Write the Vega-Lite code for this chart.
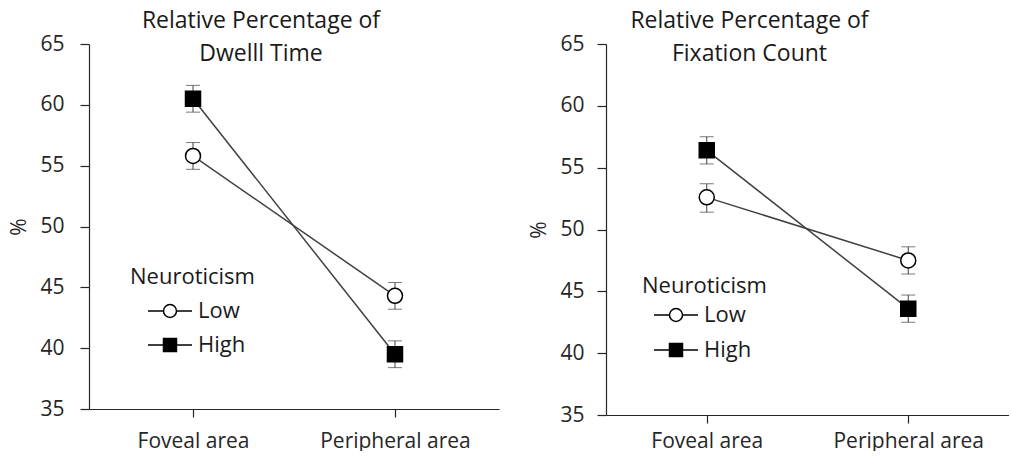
{
  "$schema": "https://vega.github.io/schema/vega-lite/v6.json",
  "background": "white",
  "padding": {"left": 8, "top": 10, "right": 0, "bottom": 0},
  "config": {
    "font": "Open Sans",
    "view": {"stroke": null},
    "concat": {"spacing": 29},
    "axis": {"grid": false, "domainColor": "#262626", "tickColor": "#262626", "labelColor": "#262626", "titleColor": "#262626", "labelFontSize": 21, "titleFontSize": 21, "titleFontWeight": "normal", "domainWidth": 1.2, "tickWidth": 1.2}
  },
  "datasets": {
    "dwell": [
      {"area": "Foveal area", "group": "Low", "mean": 55.8, "lo": 54.7, "hi": 56.9},
      {"area": "Foveal area", "group": "High", "mean": 60.5, "lo": 59.4, "hi": 61.6},
      {"area": "Peripheral area", "group": "Low", "mean": 44.3, "lo": 43.2, "hi": 45.4},
      {"area": "Peripheral area", "group": "High", "mean": 39.5, "lo": 38.4, "hi": 40.6}
    ],
    "fix": [
      {"area": "Foveal area", "group": "Low", "mean": 52.6, "lo": 51.4, "hi": 53.7},
      {"area": "Foveal area", "group": "High", "mean": 56.4, "lo": 55.3, "hi": 57.5},
      {"area": "Peripheral area", "group": "Low", "mean": 47.5, "lo": 46.4, "hi": 48.6},
      {"area": "Peripheral area", "group": "High", "mean": 43.6, "lo": 42.5, "hi": 44.7}
    ]
  },
  "resolve": {"scale": {"shape": "independent", "fill": "independent"}, "legend": {"shape": "independent", "fill": "independent"}},
  "hconcat": [
    {
      "width": 410,
      "height": 365,
      "data": {"name": "dwell"},
      "title": {"text": ["Relative Percentage of", "Dwelll Time"], "fontSize": 23, "fontWeight": "normal", "color": "#1a1a1a", "offset": -33, "dx": -33, "lineHeight": 33, "anchor": "middle"},
      "encoding": {
        "x": {"field": "area", "type": "nominal", "sort": ["Foveal area", "Peripheral area"], "scale": {"type": "point", "padding": 0.515},
          "axis": {"title": null, "labelAngle": 0, "tickSize": 8, "labelPadding": 13, "labelFontSize": 21}}
      },
      "resolve": {"scale": {"shape": "independent"}, "legend": {"shape": "independent"}},
      "layer": [
        {"mark": {"type": "rule", "color": "#404040", "strokeWidth": 1},
          "encoding": {"y": {"field": "lo", "type": "quantitative", "scale": {"domain": [35, 65], "nice": false, "zero": false}, "axis": {"title": "%", "values": [35, 40, 45, 50, 55, 60, 65], "tickSize": 9, "labelPadding": 16, "titlePadding": 10}}, "y2": {"field": "hi"}}},
        {"mark": {"type": "tick", "color": "#404040", "size": 14, "thickness": 1},
          "encoding": {"y": {"field": "lo", "type": "quantitative", "title": "%"}}},
        {"mark": {"type": "tick", "color": "#404040", "size": 14, "thickness": 1},
          "encoding": {"y": {"field": "hi", "type": "quantitative", "title": "%"}}},
        {"mark": {"type": "line", "color": "#404040", "strokeWidth": 1.5},
          "encoding": {"y": {"field": "mean", "type": "quantitative", "title": "%"}, "detail": {"field": "group"}}},
        {"mark": {"type": "point", "size": 225, "stroke": "black", "strokeWidth": 1.5, "opacity": 1, "filled": true},
          "encoding": {
            "y": {"field": "mean", "type": "quantitative", "title": "%"},
            "shape": {"field": "group", "type": "nominal", "scale": {"domain": ["High", "Low"], "range": ["square", "circle"]}, "legend": null},
            "fill": {"field": "group", "type": "nominal", "scale": {"domain": ["Low", "High"], "range": ["white", "black"]}, "legend": null}
          }},
        {"transform": [{"filter": "datum.group === 'none'"}],
          "mark": {"type": "point", "filled": false, "color": "black", "strokeWidth": 1.5},
          "encoding": {
            "y": {"field": "mean", "type": "quantitative", "title": "%"},
            "shape": {"field": "group", "type": "nominal",
              "scale": {"domain": ["Low", "High"], "range": ["M-2,0H-0.59M0.59,0H2M0.59,0A0.59,0.59,0,1,1,-0.59,0A0.59,0.59,0,1,1,0.59,0A0.59,0.59,0,1,0,-0.59,0A0.59,0.59,0,1,0,0.59,0", "M-2,0H-0.59M0.59,0H2M-0.59,-0.59H0.59V0.59H-0.59ZM-0.59,-0.5H0.59M-0.59,-0.4H0.59M-0.59,-0.3H0.59M-0.59,-0.2H0.59M-0.59,-0.1H0.59M-0.59,0H0.59M-0.59,0.1H0.59M-0.59,0.2H0.59M-0.59,0.3H0.59M-0.59,0.4H0.59M-0.59,0.5H0.59"]},
              "legend": {"orient": "none", "legendX": 41, "legendY": 223, "title": "Neuroticism", "titleFontSize": 22, "titleFontWeight": "normal", "titleColor": "#1a1a1a", "labelFontSize": 22, "labelColor": "#1a1a1a", "symbolSize": 484, "symbolOffset": 28, "labelOffset": 16, "rowPadding": 11, "titlePadding": 10, "symbolStrokeColor": "black", "symbolStrokeWidth": 1.5, "symbolOpacity": 1}}
          }}
      ]
    },
    {
      "width": 403,
      "height": 371,
      "data": {"name": "fix"},
      "title": {"text": ["Relative Percentage of", "Fixation Count"], "fontSize": 23, "fontWeight": "normal", "color": "#1a1a1a", "offset": -33, "dx": -58, "lineHeight": 33, "anchor": "middle"},
      "encoding": {
        "x": {"field": "area", "type": "nominal", "sort": ["Foveal area", "Peripheral area"], "scale": {"type": "point", "padding": 0.5},
          "axis": {"title": null, "labelAngle": 0, "tickSize": 8, "labelPadding": 7, "labelFontSize": 21}}
      },
      "resolve": {"scale": {"shape": "independent"}, "legend": {"shape": "independent"}},
      "layer": [
        {"mark": {"type": "rule", "color": "#404040", "strokeWidth": 1},
          "encoding": {"y": {"field": "lo", "type": "quantitative", "scale": {"domain": [35, 65], "nice": false, "zero": false}, "axis": {"title": "%", "values": [35, 40, 45, 50, 55, 60, 65], "tickSize": 9, "labelPadding": 13, "titlePadding": 10}}, "y2": {"field": "hi"}}},
        {"mark": {"type": "tick", "color": "#404040", "size": 14, "thickness": 1},
          "encoding": {"y": {"field": "lo", "type": "quantitative", "title": "%"}}},
        {"mark": {"type": "tick", "color": "#404040", "size": 14, "thickness": 1},
          "encoding": {"y": {"field": "hi", "type": "quantitative", "title": "%"}}},
        {"mark": {"type": "line", "color": "#404040", "strokeWidth": 1.5},
          "encoding": {"y": {"field": "mean", "type": "quantitative", "title": "%"}, "detail": {"field": "group"}}},
        {"mark": {"type": "point", "size": 225, "stroke": "black", "strokeWidth": 1.5, "opacity": 1, "filled": true},
          "encoding": {
            "y": {"field": "mean", "type": "quantitative", "title": "%"},
            "shape": {"field": "group", "type": "nominal", "scale": {"domain": ["High", "Low"], "range": ["square", "circle"]}, "legend": null},
            "fill": {"field": "group", "type": "nominal", "scale": {"domain": ["Low", "High"], "range": ["white", "black"]}, "legend": null}
          }},
        {"transform": [{"filter": "datum.group === 'none'"}],
          "mark": {"type": "point", "filled": false, "color": "black", "strokeWidth": 1.5},
          "encoding": {
            "y": {"field": "mean", "type": "quantitative", "title": "%"},
            "shape": {"field": "group", "type": "nominal",
              "scale": {"domain": ["Low", "High"], "range": ["M-2,0H-0.59M0.59,0H2M0.59,0A0.59,0.59,0,1,1,-0.59,0A0.59,0.59,0,1,1,0.59,0A0.59,0.59,0,1,0,-0.59,0A0.59,0.59,0,1,0,0.59,0", "M-2,0H-0.59M0.59,0H2M-0.59,-0.59H0.59V0.59H-0.59ZM-0.59,-0.5H0.59M-0.59,-0.4H0.59M-0.59,-0.3H0.59M-0.59,-0.2H0.59M-0.59,-0.1H0.59M-0.59,0H0.59M-0.59,0.1H0.59M-0.59,0.2H0.59M-0.59,0.3H0.59M-0.59,0.4H0.59M-0.59,0.5H0.59"]},
              "legend": {"orient": "none", "legendX": 36, "legendY": 232, "title": "Neuroticism", "titleFontSize": 22, "titleFontWeight": "normal", "titleColor": "#1a1a1a", "labelFontSize": 22, "labelColor": "#1a1a1a", "symbolSize": 484, "symbolOffset": 22, "labelOffset": 16, "rowPadding": 12, "titlePadding": 5, "symbolStrokeColor": "black", "symbolStrokeWidth": 1.5, "symbolOpacity": 1}}
          }}
      ]
    }
  ]
}
